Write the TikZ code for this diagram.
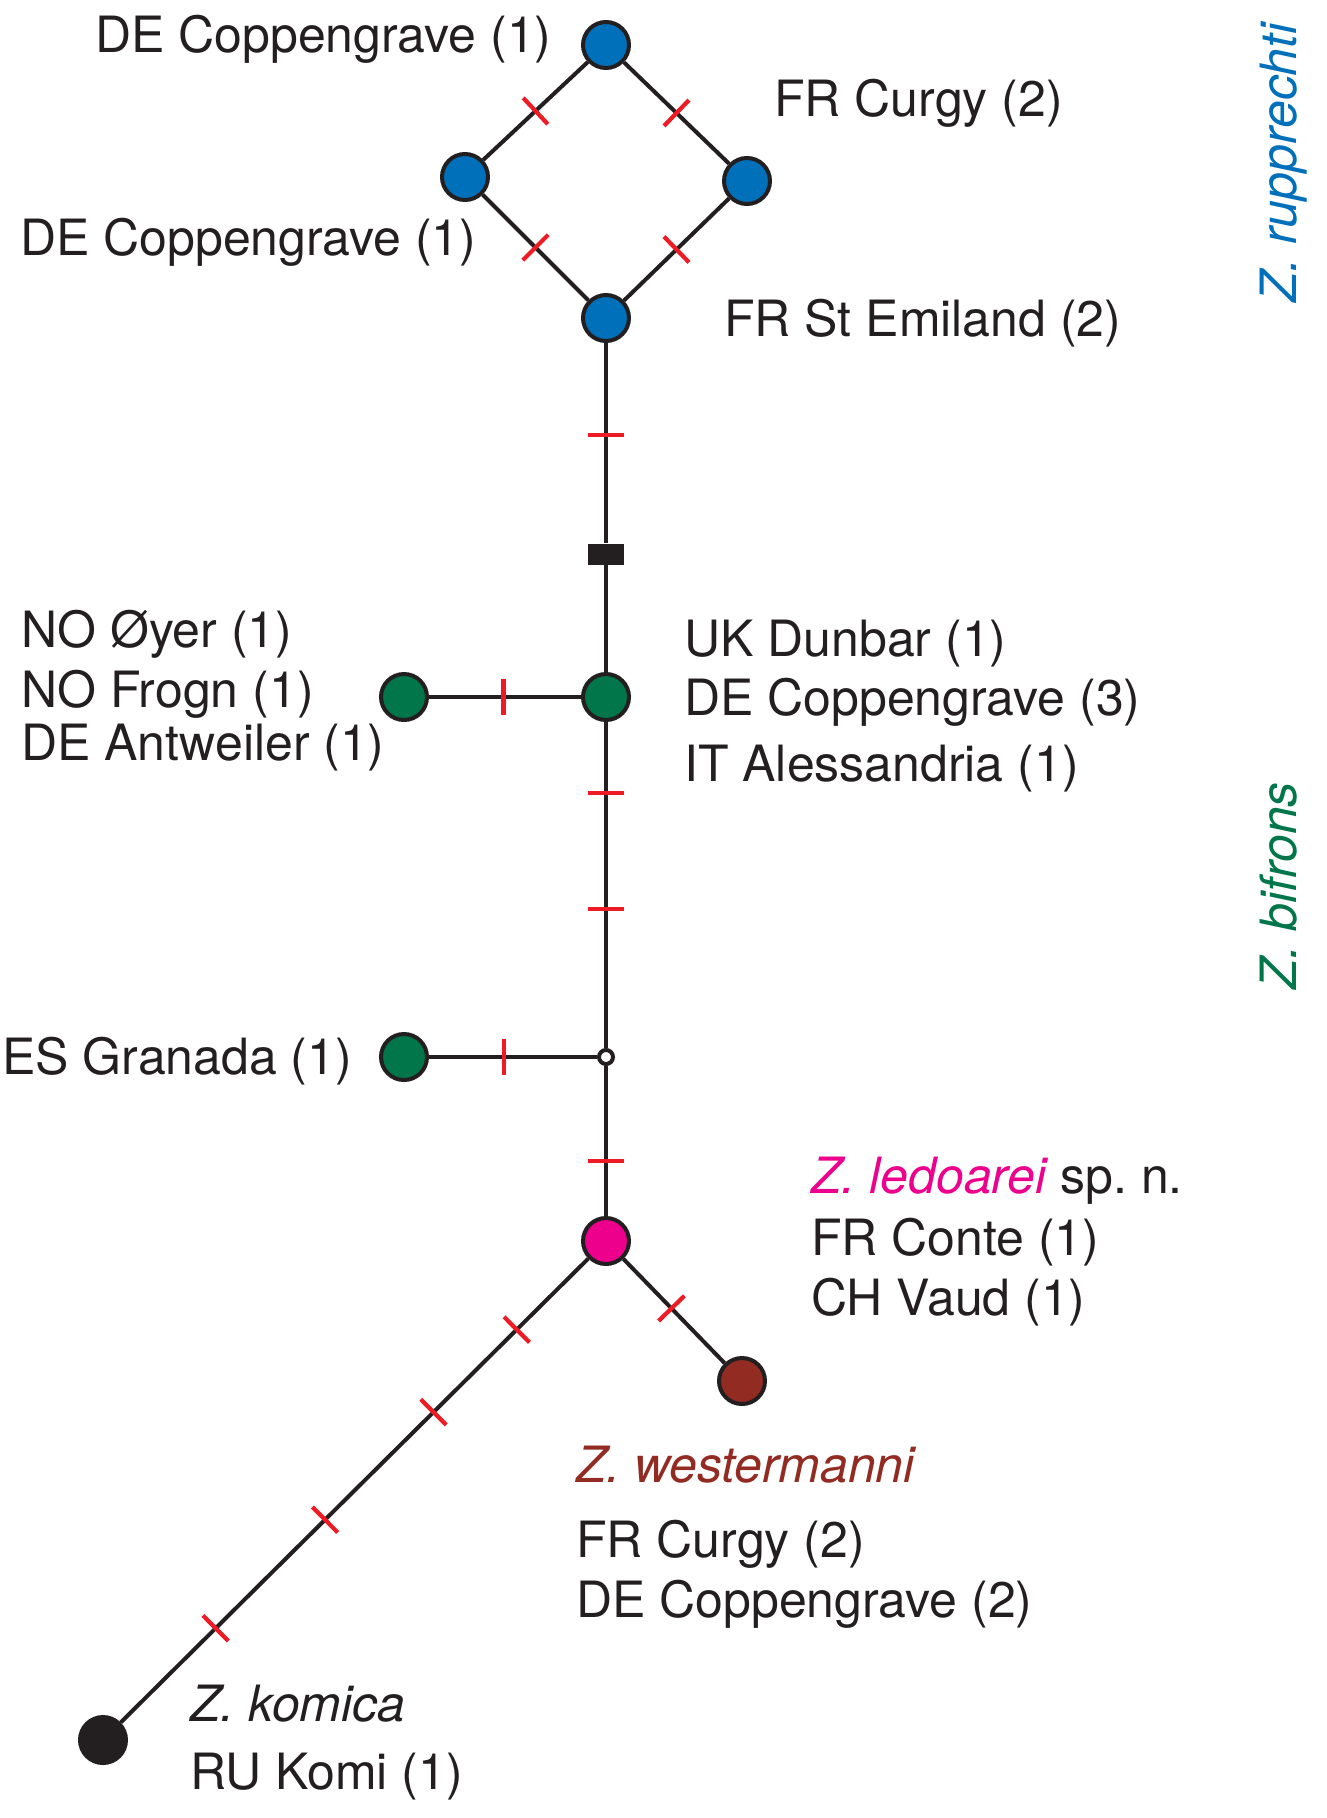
\documentclass[tikz,border=0pt]{standalone}
\usepackage{fontspec}
\setmainfont{TeX Gyre Heros}
\frenchspacing
\definecolor{ink}{HTML}{231F20}
\definecolor{zblue}{HTML}{0070BA}
\definecolor{zgreen}{HTML}{00764A}
\definecolor{zpink}{HTML}{EC008C}
\definecolor{zbrown}{HTML}{922B22}
\definecolor{tickred}{HTML}{ED1C24}
\begin{document}
\begin{tikzpicture}[x=1pt,y=-1pt,
  hap/.style={circle, draw=ink, line width=4pt, minimum size=46pt, inner sep=0pt},
  edge/.style={draw=ink, line width=4pt},
  tk/.style={sloped, fill=tickred, draw=none, minimum width=4.2pt, minimum height=36pt, inner sep=0pt},
  lab/.style={anchor=base west, inner sep=0pt, font=\fontsize{50}{60}\selectfont, text=ink},
  vlab/.style={anchor=base west, inner sep=0pt, rotate=90, font=\fontsize{50}{60}\selectfont\itshape}]
\useasboundingbox (0,0) rectangle (1327,1818);
% haplotypes
\node[hap, fill=zblue] (rA) at (606,45) {};
\node[hap, fill=zblue] (rB) at (465,177) {};
\node[hap, fill=zblue] (rC) at (747,181) {};
\node[hap, fill=zblue] (rD) at (606,318) {};
\node[fill=ink, minimum width=36pt, minimum height=21pt, inner sep=0pt] (mv) at (606,554) {};
\node[hap, fill=zgreen] (gR) at (606,697) {};
\node[hap, fill=zgreen] (gL) at (404,697) {};
\node[circle, draw=ink, fill=white, line width=4pt, minimum size=14pt, inner sep=0pt] (o1) at (606,1057) {};
\node[hap, fill=zgreen] (gL2) at (404,1057) {};
\node[hap, fill=zpink] (pk) at (606,1241) {};
\node[hap, fill=zbrown] (br) at (742,1381) {};
\node[hap, fill=ink] (bk) at (103,1740) {};
% connectors
\draw[edge] (rA) -- node[tk,pos=.5] (t1) {} (rB);
\draw[edge] (rA) -- node[tk,pos=.5] (t2) {} (rC);
\draw[edge] (rB) -- node[tk,pos=.5] (t3) {} (rD);
\draw[edge] (rC) -- node[tk,pos=.5] (t4) {} (rD);
\draw[edge] (rD) -- node[tk,pos=.46] (t5) {} (mv);
\draw[edge] (mv) -- (gR);
\draw[edge] (gL) -- node[tk,pos=.49] (t6) {} (gR);
\draw[edge] (gR) -- node[tk,pos=.217] (t7) {} node[tk,pos=.573] (t8) {} (o1);
\draw[edge] (gL2) -- node[tk,pos=.446] (t9) {} (o1);
\draw[edge] (o1) -- node[tk,pos=.633] (t10) {} (pk);
\draw[edge] (pk) -- node[tk,pos=.475] (t11) {} (br);
\draw[edge] (pk) -- node[tk,pos=.153] (t12) {} node[tk,pos=.331] (t13) {}
  node[tk,pos=.563] (t14) {} node[tk,pos=.797] (t15) {} (bk);
% labels
\node[lab] (l1) at (95,52) {DE Coppengrave (1)};
\node[lab] (l2) at (774,116) {FR Curgy (2)};
\node[lab] (l3) at (20,255) {DE Coppengrave (1)};
\node[lab] (l4) at (724,336) {FR St Emiland (2)};
\node[lab] (l5) at (21,647) {NO Øyer (1)};
\node[lab] (l6) at (21,707) {NO Frogn (1)};
\node[lab] (l7) at (21,760) {DE Antweiler (1)};
\node[lab] (l8) at (684,656) {UK Dunbar (1)};
\node[lab] (l9) at (684,715) {DE Coppengrave (3)};
\node[lab] (l10) at (684,781) {IT Alessandria (1)};
\node[lab] (l11) at (2,1074) {ES Granada (1)};
\node[lab] (l12) at (811,1193) {{\color{zpink}\itshape Z. ledoarei} sp. n.};
\node[lab] (l13) at (811,1255) {FR Conte (1)};
\node[lab] (l14) at (811,1315) {CH Vaud (1)};
\node[lab, text=zbrown, font=\fontsize{50}{60}\selectfont\itshape] (l15) at (576,1482) {Z. westermanni};
\node[lab] (l16) at (576,1557) {FR Curgy (2)};
\node[lab] (l17) at (576,1617) {DE Coppengrave (2)};
\node[lab, font=\fontsize{50}{60}\selectfont\itshape] (l18) at (190,1721) {Z. komica};
\node[lab] (l19) at (190,1789) {RU Komi (1)};
\node[vlab, text=zblue] (s1) at (1296,303) {Z. rupprechti};
\node[vlab, text=zgreen] (s2) at (1296,990) {Z. bifrons};
\end{tikzpicture}
\end{document}
